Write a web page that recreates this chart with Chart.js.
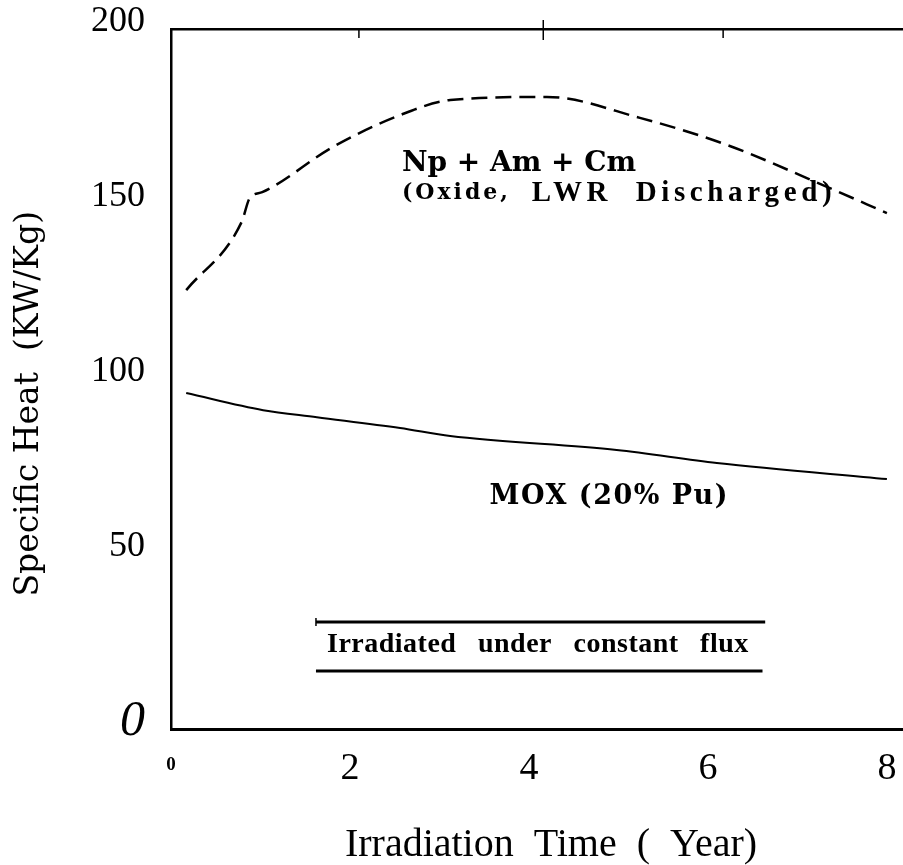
<!DOCTYPE html>
<html>
<head>
<meta charset="utf-8">
<script src="https://cdn.jsdelivr.net/npm/chart.js@4"></script>
<style>
  body { margin: 0; background: #fff; }
  #wrap { width: 903px; height: 865px; }
</style>
</head>
<body>
<div id="wrap"><canvas id="heat-chart"></canvas></div>
<script>
// values
const npYears = [0.17, 0.79, 0.88, 1.02, 1.81, 2.56, 3.12, 4.2, 5.24, 6.21, 7.33, 8.0];
const npHeat = [125.4, 144.9, 151.7, 153.4, 166.3, 175.4, 179.7, 180.6, 174.6, 166.9, 154.9, 147.4];
const moxYears = [0.17, 1.03, 1.63, 2.56, 3.12, 4.98, 6.1, 8.0];
const moxHeat = [96, 91.1, 89.1, 86, 83.7, 79.7, 76, 71.4];
const xTicks = [0, 2, 4, 6, 8];
const yTicks = [0, 50, 100, 150, 200];
const topTicks = [2.1, 4.16, 6.17];

const pts = (xs, ys) => xs.map((x, i) => ({ x: x, y: ys[i] }));

const serif = 'Liberation Serif';
const century = 'DejaVu Serif';

const annotations = {
    id: 'annotations',
    afterDraw(chart) {
        const ctx = chart.ctx;
        const x = chart.scales.x;
        const y = chart.scales.y;
        const top = chart.chartArea.top;
        ctx.save();
        ctx.strokeStyle = '#000';
        ctx.fillStyle = '#000';

        // little ticks hanging off the top frame
        ctx.lineWidth = 1.5;
        topTicks.forEach((v, i) => {
            ctx.beginPath();
            ctx.moveTo(x.getPixelForValue(v), top - (i === 1 ? 9 : 0));
            ctx.lineTo(x.getPixelForValue(v), top + (i === 1 ? 11 : 9));
            ctx.stroke();
        });

        // curve labels
        ctx.textBaseline = 'middle';
        ctx.textAlign = 'left';
        ctx.font = 'bold 28px "' + century + '"';
        ctx.fillText('Np + Am + Cm', x.getPixelForValue(2.58), y.getPixelForValue(161.6));
        ctx.font = 'bold 22px "' + century + '"';
        ctx.letterSpacing = '3px';
        ctx.fillText('(Oxide,', x.getPixelForValue(2.58), y.getPixelForValue(153.1));
        ctx.font = 'bold 29px "' + serif + '"';
        ctx.letterSpacing = '4.6px';
        ctx.fillText('LWR  Discharged)', x.getPixelForValue(4.03), y.getPixelForValue(153.1));
        ctx.font = 'bold 27px "' + century + '"';
        ctx.letterSpacing = '1.5px';
        ctx.fillText('MOX (20% Pu)', x.getPixelForValue(3.56), y.getPixelForValue(66.2));

        // boxed note
        const x0 = x.getPixelForValue(1.62);
        ctx.lineWidth = 3;
        ctx.beginPath();
        ctx.moveTo(x0, y.getPixelForValue(30.6));
        ctx.lineTo(x.getPixelForValue(6.64), y.getPixelForValue(30.6));
        ctx.moveTo(x0, y.getPixelForValue(16.6));
        ctx.lineTo(x.getPixelForValue(6.61), y.getPixelForValue(16.6));
        ctx.stroke();
        ctx.lineWidth = 1.5;
        ctx.beginPath();
        ctx.moveTo(x0, y.getPixelForValue(30.6) - 4);
        ctx.lineTo(x0, y.getPixelForValue(30.6) + 4);
        ctx.stroke();
        ctx.textAlign = 'center';
        ctx.font = 'bold 28px "' + serif + '"';
        ctx.letterSpacing = '0.5px';
        ctx.wordSpacing = '14px';
        ctx.fillText('Irradiated under constant flux', x.getPixelForValue(4.1), y.getPixelForValue(24));
        ctx.restore();
    }
};

new Chart(document.getElementById('heat-chart'), {
    type: 'line',
    data: {
        datasets: [{
            label: 'Np + Am + Cm',
            data: pts(npYears, npHeat),
            borderColor: '#000',
            borderWidth: 2.5,
            borderDash: [16, 8],
            pointRadius: 0,
            cubicInterpolationMode: 'monotone'
        }, {
            label: 'MOX (20% Pu)',
            data: pts(moxYears, moxHeat),
            borderColor: '#000',
            borderWidth: 2,
            pointRadius: 0,
            cubicInterpolationMode: 'monotone'
        }]
    },
    options: {
        responsive: true,
        maintainAspectRatio: false,
        animation: false,
        layout: { padding: 0, autoPadding: false },
        plugins: {
            legend: { display: false },
            tooltip: { enabled: false }
        },
        scales: {
            x: {
                type: 'linear',
                position: 'bottom',
                min: 0,
                max: 8.18,
                afterBuildTicks: s => { s.ticks = xTicks.map(v => ({ value: v })); },
                afterFit: s => { s.height = 136; },
                grid: { display: false, tickLength: 17 },
                border: { color: '#000', width: 3 },
                ticks: {
                    color: '#000',
                    padding: 0,
                    font: c => c.tick && c.tick.value === 0
                        ? { family: serif, size: 19, weight: 'bold', lineHeight: 2 }
                        : { family: serif, size: 38 }
                },
                title: {
                    display: true,
                    text: '\u2002\u2009Irradiation  Time  (  Year)',
                    color: '#000',
                    font: { family: serif, size: 40, lineHeight: 1 },
                    padding: 0
                }
            },
            x2: {
                type: 'linear',
                position: 'top',
                min: 0,
                max: 8.18,
                afterFit: s => { s.height = 29; },
                grid: { display: false },
                border: { color: '#000', width: 2.5 },
                ticks: { display: false }
            },
            y: {
                min: 0,
                max: 200,
                afterBuildTicks: s => { s.ticks = yTicks.map(v => ({ value: v })); },
                afterFit: s => { s.width = 171; },
                grid: { display: false, tickLength: 26 },
                border: { color: '#000', width: 2.5 },
                ticks: {
                    color: '#000',
                    padding: 0,
                    labelOffset: -7,
                    font: c => c.tick && c.tick.value === 0
                        ? { family: serif, size: 50, style: 'italic' }
                        : { family: serif, size: 36 }
                },
                title: {
                    display: true,
                    text: 'Specific Heat  (KW/Kg)\u2003\u2002',
                    color: '#000',
                    font: { family: century, size: 33 },
                    padding: { top: 10, bottom: 0 }
                }
            }
        }
    },
    plugins: [annotations]
});
</script>
</body>
</html>
